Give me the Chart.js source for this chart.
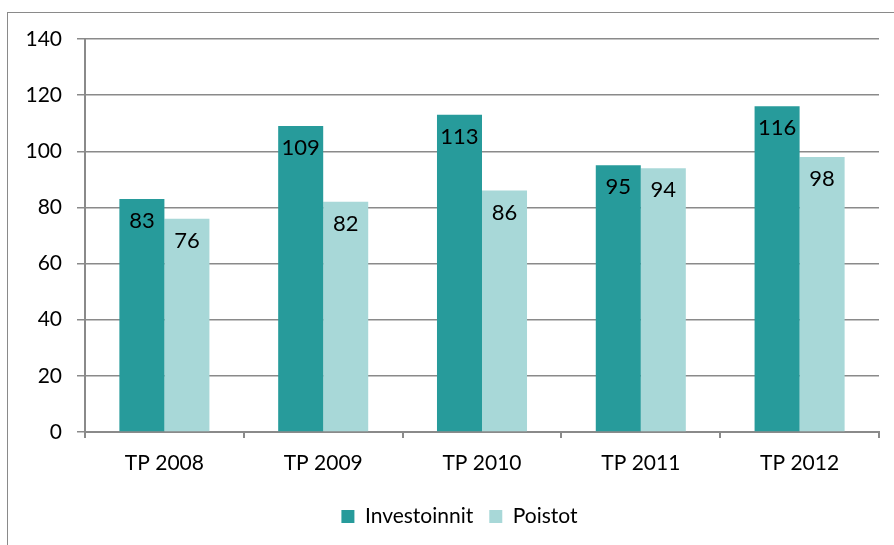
<!DOCTYPE html>
<html>
<head>
<meta charset="utf-8">
<script src="https://cdn.jsdelivr.net/npm/chart.js@4.4.0/dist/chart.umd.min.js"></script>
<style>
  html, body { margin: 0; padding: 0; background: #fff; }
  #wrap { position: relative; width: 894px; height: 545px; overflow: hidden; }
  #frame { position: absolute; left: 7px; top: 12px; width: 1000px; height: 1000px;
           border-left: 1px solid #8a8a8a; border-top: 1px solid #8a8a8a; }
  canvas { position: absolute; left: 0; top: 0; }
</style>
</head>
<body>
<div id="wrap">
  <div id="frame"></div>
  <canvas id="myChart" width="894" height="545"></canvas>
</div>
<script>
const categories = ['TP 2008', 'TP 2009', 'TP 2010', 'TP 2011', 'TP 2012'];
const investoinnit = [83, 109, 113, 95, 116];
const poistot = [76, 82, 86, 94, 98];
const yMin = 0, yMax = 140, yStep = 20;

const FONT = 'Lato, "Noto Sans", sans-serif';

// values drawn inside the top of each bar
const barValues = {
  id: 'barValues',
  afterDatasetsDraw(chart) {
    const ctx = chart.ctx;
    ctx.save();
    ctx.font = '22px ' + FONT;
    ctx.fillStyle = '#000';
    ctx.textAlign = 'center';
    ctx.textBaseline = 'middle';
    chart.data.datasets.forEach((ds, i) => {
      chart.getDatasetMeta(i).data.forEach((bar, j) => {
        ctx.fillText(ds.data[j], bar.x, bar.y + 22);
      });
    });
    ctx.restore();
  }
};

// legend sits a bit right of the canvas centre in the original
const legendShift = {
  id: 'legendShift',
  afterLayout(chart) {
    chart.legend.left += 20;
    chart.legend.right += 20;
  }
};

const config = {
  type: 'bar',
  data: {
    labels: categories,
    datasets: [
      { label: 'Investoinnit', data: investoinnit, backgroundColor: '#279b9b',
        categoryPercentage: 0.567, barPercentage: 1.0 },
      { label: 'Poistot', data: poistot, backgroundColor: '#a8d8d8',
        categoryPercentage: 0.567, barPercentage: 1.0 }
    ]
  },
  options: {
    responsive: false,
    animation: false,
    layout: { padding: { top: 39, right: 15, bottom: 8, left: 0 } },
    plugins: {
      legend: {
        position: 'bottom',
        labels: {
          font: { family: FONT, size: 21 },
          color: '#000',
          boxWidth: 13,
          boxHeight: 13,
          padding: 16
        }
      },
      tooltip: { enabled: false }
    },
    scales: {
      x: {
        grid: { display: true, drawOnChartArea: false, offset: true, tickLength: 6,
                color: '#8a8a8a', lineWidth: 2 },
        border: { color: '#8a8a8a', width: 2 },
        ticks: { font: { family: FONT, size: 21 }, color: '#000', padding: 13 },
        afterFit(scale) { scale.height = 58; }
      },
      y: {
        min: yMin,
        max: yMax,
        grid: { color: '#8a8a8a', tickLength: 8, lineWidth: 1.5 },
        border: { color: '#8a8a8a', width: 2 },
        ticks: { stepSize: yStep, font: { family: FONT, size: 21 }, color: '#000', padding: 15 },
        afterFit(scale) { scale.width = 85; }
      }
    }
  },
  plugins: [barValues, legendShift]
};

new Chart(document.getElementById('myChart'), config);
</script>
</body>
</html>
